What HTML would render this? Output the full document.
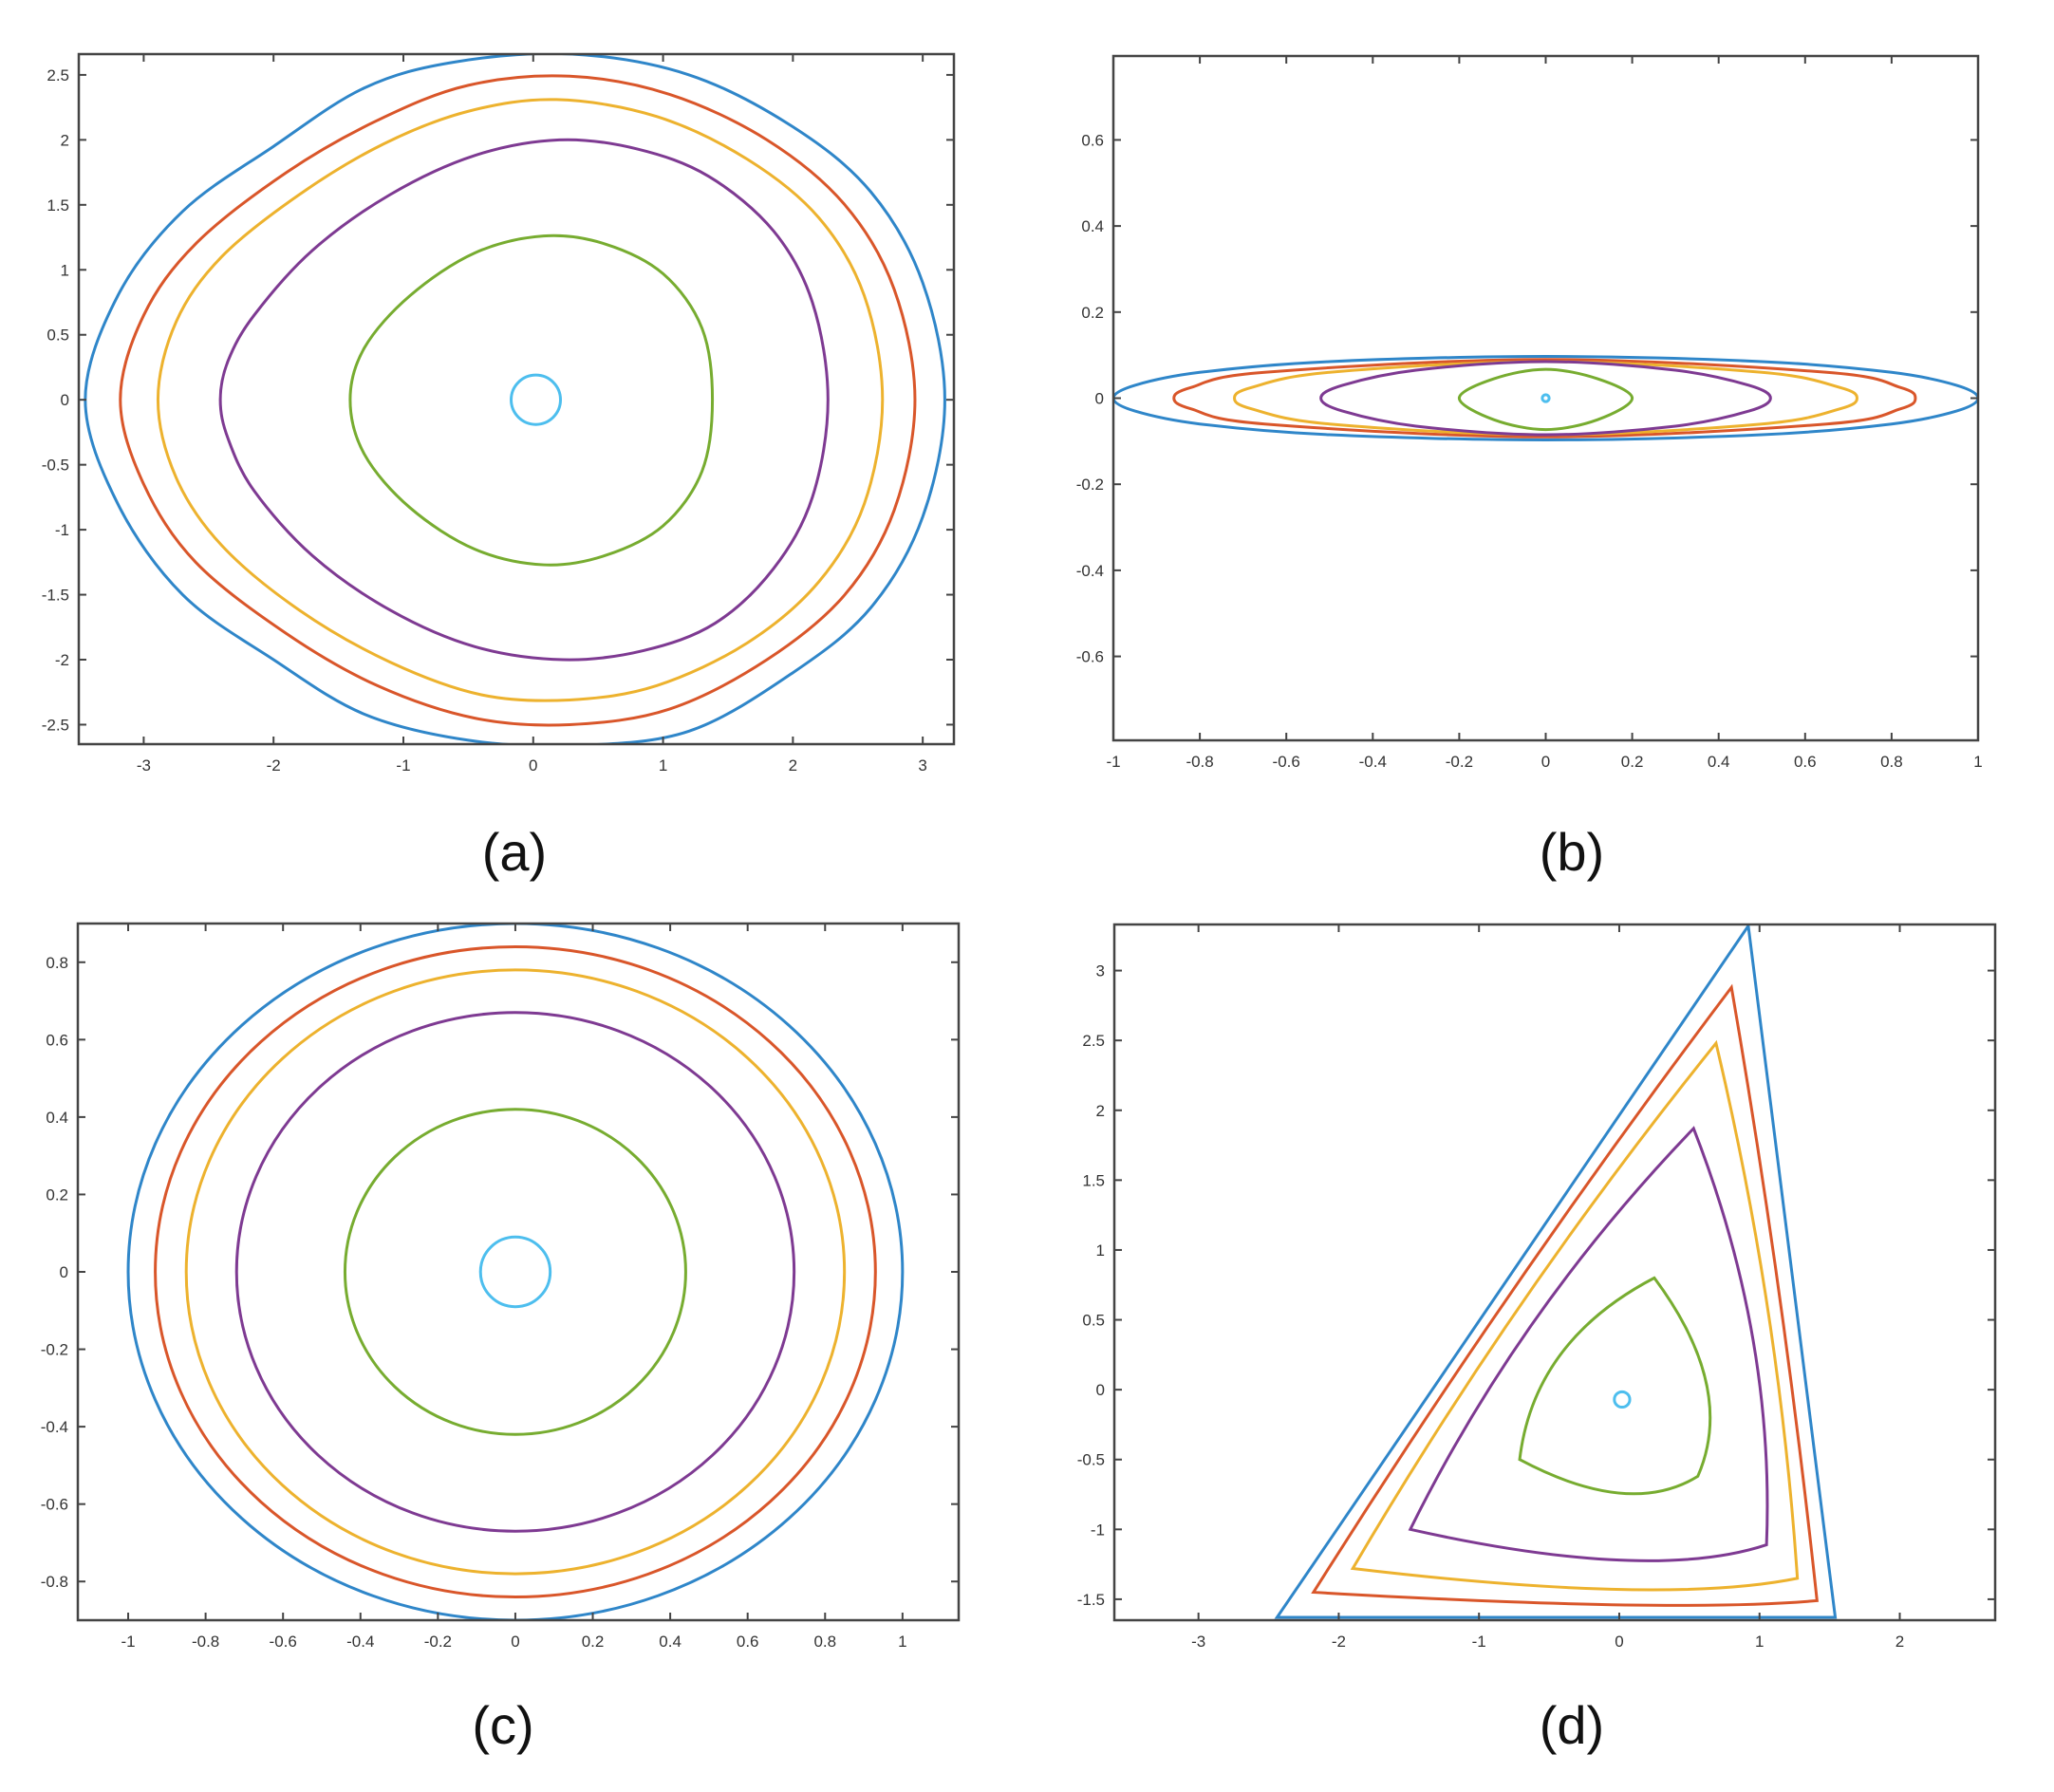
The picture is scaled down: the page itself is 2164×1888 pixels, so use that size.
<!DOCTYPE html>
<html><head><meta charset="utf-8"><style>
html,body{margin:0;padding:0;background:#fff;}
svg{display:block;}
.tick{font-family:"Liberation Sans",sans-serif;font-size:17px;fill:#333;}
.cap{font-family:"Liberation Sans",sans-serif;font-size:56px;fill:#111;}
</style></head><body>
<svg id="fig" width="2164" height="1888" viewBox="0 0 2164 1888" xmlns="http://www.w3.org/2000/svg"></svg>
<script>
// ---- Panel (a) data: closed contour points [x,y] ----
const aBlue=[[3.17,0],[3.0,0.9],[2.6,1.6],[2.0,2.1],[1.2,2.5],[0.3,2.66],[-0.6,2.6],[-1.3,2.4],[-2.0,1.95],[-2.7,1.45],[-3.2,0.8],[-3.45,0],[-3.2,-0.8],[-2.7,-1.5],[-2.0,-2.0],[-1.3,-2.42],[-0.5,-2.62],[0.33,-2.66],[1.2,-2.55],[2.0,-2.1],[2.6,-1.6],[3.0,-0.9]];
const aRed=[[2.94,0],[2.78,0.85],[2.4,1.5],[1.8,2.0],[1.05,2.35],[0.28,2.49],[-0.5,2.42],[-1.2,2.15],[-1.9,1.75],[-2.6,1.2],[-3.0,0.65],[-3.18,0],[-3.0,-0.65],[-2.6,-1.25],[-1.9,-1.8],[-1.2,-2.2],[-0.45,-2.45],[0.28,-2.5],[1.05,-2.38],[1.8,-2.0],[2.4,-1.5],[2.78,-0.85]];
const aYellow=[[2.69,0],[2.55,0.8],[2.2,1.4],[1.65,1.85],[0.95,2.18],[0.18,2.31],[-0.5,2.22],[-1.15,1.97],[-1.8,1.58],[-2.4,1.1],[-2.75,0.6],[-2.89,0],[-2.75,-0.6],[-2.4,-1.12],[-1.8,-1.62],[-1.1,-2.02],[-0.4,-2.27],[0.28,-2.31],[0.95,-2.2],[1.65,-1.87],[2.2,-1.4],[2.55,-0.8]];
const aPurple=[[2.27,0],[2.15,0.75],[1.85,1.3],[1.35,1.72],[0.8,1.93],[0.2,2.0],[-0.45,1.88],[-1.1,1.58],[-1.7,1.15],[-2.15,0.65],[-2.35,0.3],[-2.41,0],[-2.35,-0.3],[-2.15,-0.7],[-1.7,-1.2],[-1.1,-1.62],[-0.45,-1.9],[0.23,-2.0],[0.85,-1.93],[1.4,-1.72],[1.85,-1.3],[2.15,-0.75]];
const aGreen=[[1.38,0],[1.3,0.55],[1.0,0.97],[0.55,1.2],[0.08,1.26],[-0.45,1.13],[-0.95,0.8],[-1.3,0.4],[-1.41,0],[-1.3,-0.42],[-0.95,-0.83],[-0.45,-1.15],[0.08,-1.27],[0.55,-1.2],[1.0,-0.97],[1.3,-0.55]];
const aCyan=[0.02,0,0.19,0.19];
// ---- Panel (b) data ----
const bBlue=[[-1,0],[-0.95,0.03],[-0.8,0.06],[-0.5,0.085],[0,0.097],[0.5,0.085],[0.8,0.06],[0.95,0.03],[1,0],[0.95,-0.03],[0.8,-0.06],[0.5,-0.085],[0,-0.097],[-0.5,-0.085],[-0.8,-0.06],[-0.95,-0.03]];
const bRed=[[-0.86,0],[-0.82,0.025],[-0.65,0.06],[0,0.09],[0.65,0.06],[0.82,0.025],[0.855,0],[0.82,-0.025],[0.65,-0.06],[0,-0.09],[-0.65,-0.06],[-0.82,-0.025]];
const bYellow=[[-0.72,0],[-0.68,0.025],[-0.5,0.06],[0,0.085],[0.5,0.06],[0.68,0.025],[0.72,0],[0.68,-0.025],[0.5,-0.06],[0,-0.085],[-0.5,-0.06],[-0.68,-0.025]];
const bPurple=[[-0.52,0],[-0.47,0.03],[-0.3,0.065],[0,0.085],[0.3,0.065],[0.47,0.03],[0.52,0],[0.47,-0.03],[0.3,-0.065],[0,-0.085],[-0.3,-0.065],[-0.47,-0.03]];
const bGreen=[[-0.2,0],[-0.12,0.045],[0,0.067],[0.12,0.045],[0.2,0],[0.12,-0.05],[0,-0.073],[-0.12,-0.05]];
const bCyan=[0,0,0.008,0.008];
// ---- Panel (c) data: ellipses [cx,cy,rx,ry] ----
const cBlue=[0,0,1.0,0.9];
const cRed=[0,0,0.93,0.84];
const cYellow=[0,0,0.85,0.78];
const cPurple=[0,0,0.72,0.67];
const cGreen=[0,0,0.44,0.42];
const cCyan=[0,0,0.09,0.09];
// ---- Panel (d) data: [corner, side-mid, corner, side-mid, corner, side-mid] ----
const dBlue=[[0.92,3.32],[-0.76,0.845],[-2.44,-1.63],[-0.45,-1.63],[1.54,-1.63],[1.23,0.845]];
const dRed=[[0.8,2.88],[-0.74,0.74],[-2.18,-1.45],[0,-1.54],[1.41,-1.51],[1.14,0.69]];
const dYellow=[[0.69,2.48],[-0.68,0.64],[-1.9,-1.28],[0,-1.43],[1.27,-1.35],[1.06,0.57]];
const dPurple=[[0.53,1.87],[-0.6,0.5],[-1.49,-1.0],[0,-1.22],[1.05,-1.11],[0.95,0.38]];
const dGreen=[[0.25,0.8],[-0.42,0.25],[-0.71,-0.5],[0,-0.74],[0.56,-0.62],[0.62,0.05]];
const dCyan=[0.02,-0.07,0.055,0.055];
// ---- Tick labels ----
const aXT=[-3,-2,-1,0,1,2,3];
const aYT=[-2.5,-2,-1.5,-1,-0.5,0,0.5,1,1.5,2,2.5];
const bXT=[-1,-0.8,-0.6,-0.4,-0.2,0,0.2,0.4,0.6,0.8,1];
const bYT=[-0.6,-0.4,-0.2,0,0.2,0.4,0.6];
const cXT=[-1,-0.8,-0.6,-0.4,-0.2,0,0.2,0.4,0.6,0.8,1];
const cYT=[-0.8,-0.6,-0.4,-0.2,0,0.2,0.4,0.6,0.8];
const dXT=[-3,-2,-1,0,1,2];
const dYT=[-1.5,-1,-0.5,0,0.5,1,1.5,2,2.5,3];

const C={blue:"#2f86c9",red:"#d9562a",yellow:"#edb22e",purple:"#7e3a92",green:"#77ac30",cyan:"#4dbeee"};
const NS="http://www.w3.org/2000/svg";
const svg=document.getElementById("fig");
function mk(tag,attrs,parent){const e=document.createElementNS(NS,tag);for(const k in attrs)e.setAttribute(k,attrs[k]);(parent||svg).appendChild(e);return e;}

function panel(id,box,xl,yl,xt,yt){
  const g=mk("g",{});
  
  
  const [x0,y0,x1,y1]=box;
  const sx=v=>x0+(v-xl[0])/(xl[1]-xl[0])*(x1-x0);
  const sy=v=>y1-(v-yl[0])/(yl[1]-yl[0])*(y1-y0);
  const cp=mk("clipPath",{id:"clip"+id},g);
  mk("rect",{x:x0,y:y0,width:x1-x0,height:y1-y0},cp);
  const plot=mk("g",{"clip-path":"url(#clip"+id+")"},g);
  
  
  const axg=mk("g",{},g);
  
  
  xt.forEach(v=>{const X=sx(v);
    mk("line",{x1:X,y1:y1,x2:X,y2:y1-8,stroke:"#444","stroke-width":2},axg);
    mk("line",{x1:X,y1:y0,x2:X,y2:y0+8,stroke:"#444","stroke-width":2},axg);
    const t=mk("text",{x:X,y:y1+28,"text-anchor":"middle",class:"tick"},axg);t.textContent=String(v);
    
    
  });
  yt.forEach(v=>{const Y=sy(v);
    mk("line",{x1:x0,y1:Y,x2:x0+8,y2:Y,stroke:"#444","stroke-width":2},axg);
    mk("line",{x1:x1,y1:Y,x2:x1-8,y2:Y,stroke:"#444","stroke-width":2},axg);
    const t=mk("text",{x:x0-10,y:Y+6,"text-anchor":"end",class:"tick"},axg);t.textContent=String(v);
    
    
  });
  mk("rect",{x:x0,y:y0,width:x1-x0,height:y1-y0,fill:"none",stroke:"#444","stroke-width":2.5},axg);
  return {plot,sx,sy};
}
function smooth(P,pts,color,name){
  const p=pts.map(q=>[P.sx(q[0]),P.sy(q[1])]);const n=p.length;
  let d="M"+p[0][0]+","+p[0][1];
  for(let i=0;i<n;i++){const a=p[(i-1+n)%n],b=p[i],c=p[(i+1)%n],e=p[(i+2)%n];
    d+=" C"+(b[0]+(c[0]-a[0])/6)+","+(b[1]+(c[1]-a[1])/6)+" "+(c[0]-(e[0]-b[0])/6)+","+(c[1]-(e[1]-b[1])/6)+" "+c[0]+","+c[1];}
  const el=mk("path",{d:d+"Z",fill:"none",stroke:color,"stroke-width":3},P.plot);
  
  
}
function ell(P,e,color,name){
  const el=mk("ellipse",{cx:P.sx(e[0]),cy:P.sy(e[1]),rx:Math.abs(P.sx(e[2])-P.sx(0)),ry:Math.abs(P.sy(e[3])-P.sy(0)),fill:"none",stroke:color,"stroke-width":3},P.plot);
  
  
}
function tri(P,pts,color,name){
  const p=pts.map(q=>[P.sx(q[0]),P.sy(q[1])]);
  let d="M"+p[0][0]+","+p[0][1];
  for(let i=0;i<3;i++){const a=p[2*i],m=p[2*i+1],b=p[(2*i+2)%6];
    const cx=2*m[0]-(a[0]+b[0])/2,cy=2*m[1]-(a[1]+b[1])/2;
    d+=" Q"+cx+","+cy+" "+b[0]+","+b[1];}
  const el=mk("path",{d:d+"Z",fill:"none",stroke:color,"stroke-width":3,"stroke-linejoin":"miter"},P.plot);
  
  
}
function caption(x,y,s,name){const t=mk("text",{x:x,y:y,"text-anchor":"middle",class:"cap"});t.textContent=s;
  
  }

const A=panel("a",[83,57,1005,784],[-3.5,3.24],[-2.65,2.66],aXT,aYT);
smooth(A,aBlue,C.blue,"a-blue-contour");smooth(A,aRed,C.red,"a-red-contour");smooth(A,aYellow,C.yellow,"a-yellow-contour");
smooth(A,aPurple,C.purple,"a-purple-contour");smooth(A,aGreen,C.green,"a-green-contour");ell(A,aCyan,C.cyan,"a-cyan-contour");

const B=panel("b",[1173,59,2084,780],[-1,1],[-0.795,0.795],bXT,bYT);
smooth(B,bBlue,C.blue,"b-blue-contour");smooth(B,bRed,C.red,"b-red-contour");smooth(B,bYellow,C.yellow,"b-yellow-contour");
smooth(B,bPurple,C.purple,"b-purple-contour");smooth(B,bGreen,C.green,"b-green-contour");ell(B,bCyan,C.cyan,"b-cyan-contour");

const Cp=panel("c",[82,973,1010,1707],[-1.13,1.145],[-0.9,0.9],cXT,cYT);
ell(Cp,cBlue,C.blue,"c-blue-contour");ell(Cp,cRed,C.red,"c-red-contour");ell(Cp,cYellow,C.yellow,"c-yellow-contour");
ell(Cp,cPurple,C.purple,"c-purple-contour");ell(Cp,cGreen,C.green,"c-green-contour");ell(Cp,cCyan,C.cyan,"c-cyan-contour");

const D=panel("d",[1174,974,2102,1707],[-3.6,2.68],[-1.65,3.33],dXT,dYT);
tri(D,dBlue,C.blue,"d-blue-contour");tri(D,dRed,C.red,"d-red-contour");tri(D,dYellow,C.yellow,"d-yellow-contour");
tri(D,dPurple,C.purple,"d-purple-contour");tri(D,dGreen,C.green,"d-green-contour");ell(D,dCyan,C.cyan,"d-cyan-contour");

caption(542,917,"(a)","caption-a");caption(1656,917,"(b)","caption-b");
caption(530,1837,"(c)","caption-c");caption(1656,1837,"(d)","caption-d");
</script>
</body></html>
